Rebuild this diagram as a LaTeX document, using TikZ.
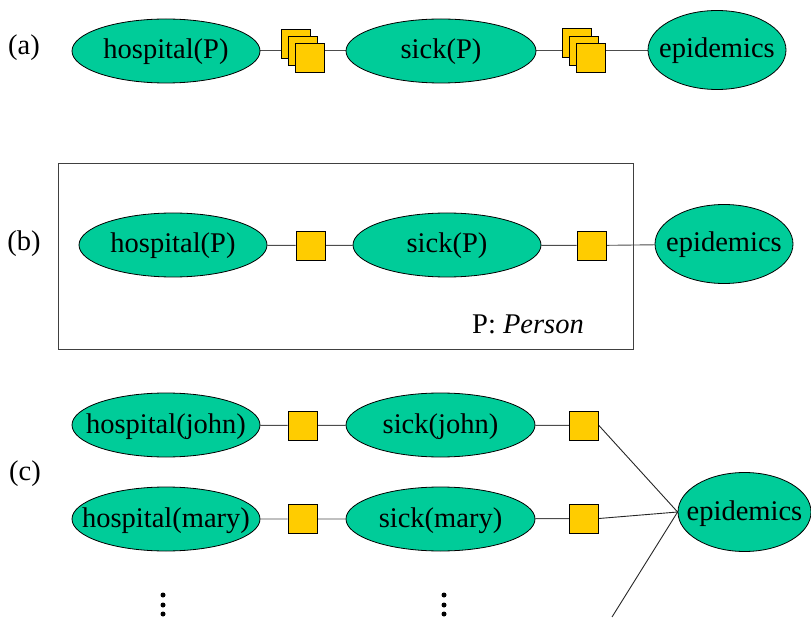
\documentclass[tikz,border=0pt]{standalone}
\usepackage{fontspec}
\setmainfont{Liberation Serif}
\newfontfamily\timesfont{Liberation Serif}
\usetikzlibrary{backgrounds,shapes.geometric}
\definecolor{nodegreen}{RGB}{0,204,153}
\definecolor{factyellow}{RGB}{255,204,0}
\tikzset{
  var/.style={ellipse, draw=black, line width=0.8pt, fill=nodegreen, inner sep=0pt},
  hv/.style={var, minimum width=188pt, minimum height=64pt},
  ev/.style={var, minimum width=138pt, minimum height=79pt},
  fac/.style={rectangle, draw=black, line width=0.8pt, fill=factyellow, minimum size=29pt, inner sep=0pt},
  conn/.style={draw=black!70, line width=0.9pt},
  lbl/.style={inner sep=0pt},
  dotmark/.style={circle, fill=black, inner sep=0pt, minimum size=5pt}
}
\newcommand{\tx}[1]{\raisebox{-8pt}[0pt][0pt]{\makebox[0pt]{#1}}}
\begin{document}
\begin{tikzpicture}[x=1pt, y=-1pt, font=\timesfont\fontsize{28.5}{34}\selectfont]
\useasboundingbox (0,0) rectangle (811,620);
% ---------- (a)
\node[lbl] (la) at (24,48) {(a)};
\node[hv] (ah) at (166,51) {\tx{hospital(P)}};
\node[fac] (as1a) at (295.5,43.5) {};
\node[fac] (as1b) at (302.5,50.5) {};
\node[fac] (as1c) at (310,57.5) {};
\node[hv, minimum width=190pt] (as) at (441,51) {\tx{sick(P)}};
\node[fac] (as2a) at (576.5,43) {};
\node[fac] (as2b) at (584,50.5) {};
\node[fac] (as2c) at (590.5,57.5) {};
\node[ev] (ae) at (717,50) {\tx{epidemics}};
\begin{scope}[on background layer]
\draw[conn] (ah.east |- as1b) -- (as1b) -- (as.west |- as1b);
\draw[conn] (as.east |- as2b) -- (as2b) -- (ae.west |- as2b);
\end{scope}
% ---------- (b)
\node[lbl] (lb) at (24,244) {(b)};
\draw[draw=black!75, line width=0.9pt] (58,163) rectangle (633,349);
\node[hv] (bh) at (173,245) {\tx{hospital(P)}};
\node[fac] (bs1) at (310.5,245.5) {};
\node[hv] (bs) at (447,245) {\tx{sick(P)}};
\node[fac] (bs2) at (591.5,245.5) {};
\node[ev] (be) at (724,244) {\tx{epidemics}};
\node[lbl] (bp) at (528,324) {P: \textit{Person}};
\begin{scope}[on background layer]
\draw[conn] (bh) -- (bs1) -- (bs) -- (bs2) -- (be);
\end{scope}
% ---------- (c)
\node[lbl] (lc) at (25,474) {(c)};
\node[hv] (ch1) at (166,425) {\tx{hospital(john)}};
\node[fac] (cf1) at (302.5,425.5) {};
\node[hv, minimum width=189pt] (cs1) at (440.5,425) {\tx{sick(john)}};
\node[fac] (cg1) at (584,425.5) {};
\node[hv] (ch2) at (166,519) {\tx{hospital(mary)}};
\node[fac] (cf2) at (302.5,519) {};
\node[hv, minimum width=189pt] (cs2) at (440.5,519) {\tx{sick(mary)}};
\node[fac] (cg2) at (584,518.5) {};
\node[ev, minimum width=133pt] (ce) at (744.5,512) {\tx{epidemics}};
\coordinate (cfree) at (612,617);
\begin{scope}[on background layer]
\draw[conn] (ch1) -- (cf1) -- (cs1) -- (cg1);
\draw[conn] (ch2) -- (cf2) -- (cs2) -- (cg2);
\draw[conn, draw=black!85] (cg1.east) -- (ce.west);
\draw[conn, draw=black!85] (cg2.east) -- (ce.west);
\draw[conn, draw=black!85] (cfree) -- (ce.west);
\end{scope}
\node[dotmark] (d1a) at (163,595) {};
\node[dotmark] (d1b) at (163,605) {};
\node[dotmark] (d1c) at (163,614) {};
\node[dotmark] (d2a) at (444,595) {};
\node[dotmark] (d2b) at (444,605) {};
\node[dotmark] (d2c) at (444,614) {};
\end{tikzpicture}
\end{document}
